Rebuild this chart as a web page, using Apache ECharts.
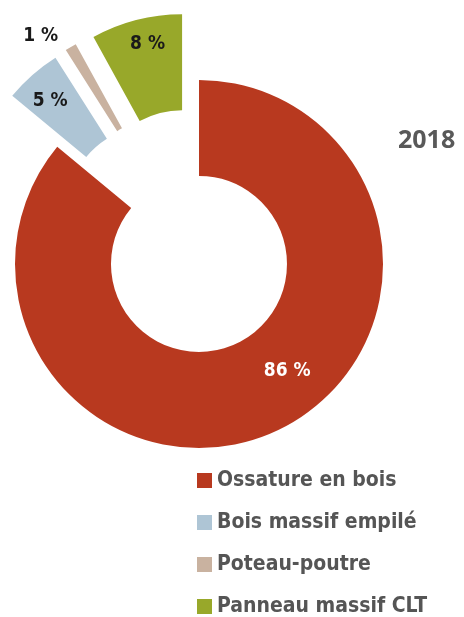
<!DOCTYPE html>
<html>
<head>
<meta charset="utf-8">
<script src="https://cdn.jsdelivr.net/npm/echarts@6/dist/echarts.min.js"></script>
<style>
  html, body { margin: 0; padding: 0; background: #fff; }
  #chart { width: 464px; height: 617px; }
</style>
</head>
<body>
<div id="chart"></div>
<script>
// parts de marché par système constructif, 2018
var categories = ['Ossature en bois', 'Bois massif empilé', 'Poteau-poutre', 'Panneau massif CLT'];
var values = [86, 5, 1, 8];
var colors = ['#b8391f', '#aec5d5', '#c9b2a0', '#98a82a'];
var exploded = [false, true, true, true];
// décalage des étiquettes (à la main)
var labelOffsets = [[29, -19], [-12, -8], [-53, -50], [0, -19]];
var labelColors = ['#ffffff', '#1a1a1a', '#1a1a1a', '#1a1a1a'];

var narrow = "'DejaVu Sans Condensed', 'Liberation Sans Narrow', sans-serif";

var data = [];
for (var i = 0; i < categories.length; i++) {
    var lbl = { offset: labelOffsets[i], color: labelColors[i], fontFamily: narrow, fontSize: 19, fontWeight: 'bold' };
    data.push({
        name: categories[i],
        value: values[i],
        selected: exploded[i],
        itemStyle: { color: colors[i] },
        label: lbl,
        select: { label: lbl, itemStyle: { color: colors[i] } }
    });
}

var myChart = echarts.init(document.getElementById('chart'), null, { renderer: 'canvas' });
var option = {
    animation: false,
    backgroundColor: '#ffffff',
    title: {
        text: '2018',
        left: 393,
        top: 123,
        textStyle: { fontFamily: "'Open Sans', sans-serif", fontSize: 25, fontWeight: 'bold', color: '#595959' }
    },
    legend: {
        orient: 'vertical',
        left: 192,
        top: 465,
        height: 150,
        icon: 'rect',
        itemWidth: 15,
        itemHeight: 15,
        itemGap: 21,
        selectedMode: false,
        data: categories,
        textStyle: { fontFamily: narrow, fontSize: 21, fontWeight: 'bold', color: '#555555' }
    },
    series: [{
        type: 'pie',
        center: [199, 264],
        radius: [88, 184],
        startAngle: 90,
        clockwise: true,
        selectedMode: 'multiple',
        selectedOffset: 68,
        avoidLabelOverlap: false,
        emphasis: { disabled: true },
        label: {
            show: true,
            position: 'inside',
            formatter: '{c} %',
            fontFamily: narrow,
            fontSize: 19,
            fontWeight: 'bold'
        },
        labelLine: { show: false },
        data: data
    }]
};
myChart.setOption(option);
</script>
</body>
</html>
